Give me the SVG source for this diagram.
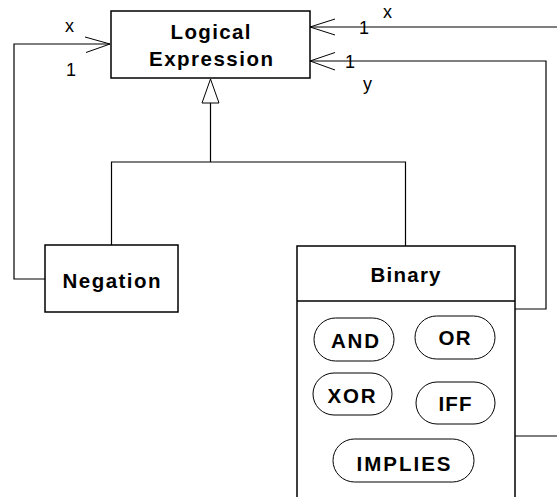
<svg xmlns="http://www.w3.org/2000/svg" width="557" height="497" viewBox="0 0 557 497">
  <style>
    .box { fill: #fff; stroke: #000; stroke-width: 1.5; }
    .pill { fill: #fff; stroke: #000; stroke-width: 1; }
    .wire { fill: none; stroke: #000; stroke-width: 1.2; }
    .head { fill: none; stroke: #000; stroke-width: 1; }
    .title { font-family: "Liberation Sans", Arial, sans-serif; font-weight: bold; font-size: 20.5px; fill: #000; text-anchor: middle; }
    .mult { font-family: "Liberation Sans", Arial, sans-serif; font-size: 18px; fill: #000; }
  </style>
  <rect width="557" height="497" fill="#fff"/>

  <g id="connectors">
    <!-- inheritance: Negation and Binary generalise Logical Expression -->
    <path class="wire" d="M210.5,103 V162 M111.5,245 V162 H405.5 V246"/>
    <polygon class="box" points="210.5,79 202,103 219,103" style="stroke-width:1"/>
    <!-- Negation operand -->
    <path class="wire" d="M45,279 H14 V44 H110"/>
    <path class="head" d="M85,37 L110,44 L86,52.5"/>
    <text class="mult" x="65" y="32">x</text>
    <text class="mult" x="66" y="76">1</text>
    <!-- Binary operands -->
    <path class="wire" d="M557,27 H310"/>
    <path class="head" d="M335,19 L310,27 L335,35"/>
    <text class="mult" x="383" y="18">x</text>
    <text class="mult" x="359" y="34">1</text>
    <path class="wire" d="M515,309 H546 V61 H310"/>
    <path class="head" d="M335,52.5 L310,61 L335,70"/>
    <text class="mult" x="345" y="68">1</text>
    <text class="mult" x="363" y="90">y</text>
    <path class="wire" d="M515,436 H557"/>
  </g>

  <g id="logical-expression">
    <rect class="box" x="111" y="11" width="199" height="67"/>
    <text class="title" x="210.5" y="38.5" textLength="80" lengthAdjust="spacing">Logical</text>
    <text class="title" x="211" y="66" textLength="124" lengthAdjust="spacing">Expression</text>
  </g>

  <g id="negation">
    <rect class="box" x="45" y="245" width="133" height="67"/>
    <text class="title" x="111.5" y="288" textLength="98" lengthAdjust="spacing">Negation</text>
  </g>

  <g id="binary">
    <rect class="box" x="297" y="246" width="218" height="270"/>
    <line class="box" x1="297" y1="301" x2="515" y2="301"/>
    <text class="title" x="405.5" y="282" textLength="70" lengthAdjust="spacing">Binary</text>
  </g>

  <g id="op-and">
    <rect class="pill" x="314" y="318" width="80" height="43" rx="21.5"/>
    <text class="title" x="355" y="348" textLength="48" lengthAdjust="spacing">AND</text>
  </g>
  <g id="op-or">
    <rect class="pill" x="415" y="316" width="80" height="43" rx="21.5"/>
    <text class="title" x="454.5" y="345" textLength="32" lengthAdjust="spacing">OR</text>
  </g>
  <g id="op-xor">
    <rect class="pill" x="313" y="373" width="79" height="42" rx="21"/>
    <text class="title" x="351.5" y="402.5" textLength="48" lengthAdjust="spacing">XOR</text>
  </g>
  <g id="op-iff">
    <rect class="pill" x="416" y="382" width="79" height="42" rx="21"/>
    <text class="title" x="455" y="411" textLength="33" lengthAdjust="spacing">IFF</text>
  </g>
  <g id="op-implies">
    <rect class="pill" x="333" y="439" width="141" height="43" rx="21.5"/>
    <text class="title" x="403.5" y="471" textLength="94" lengthAdjust="spacing">IMPLIES</text>
  </g>
</svg>
